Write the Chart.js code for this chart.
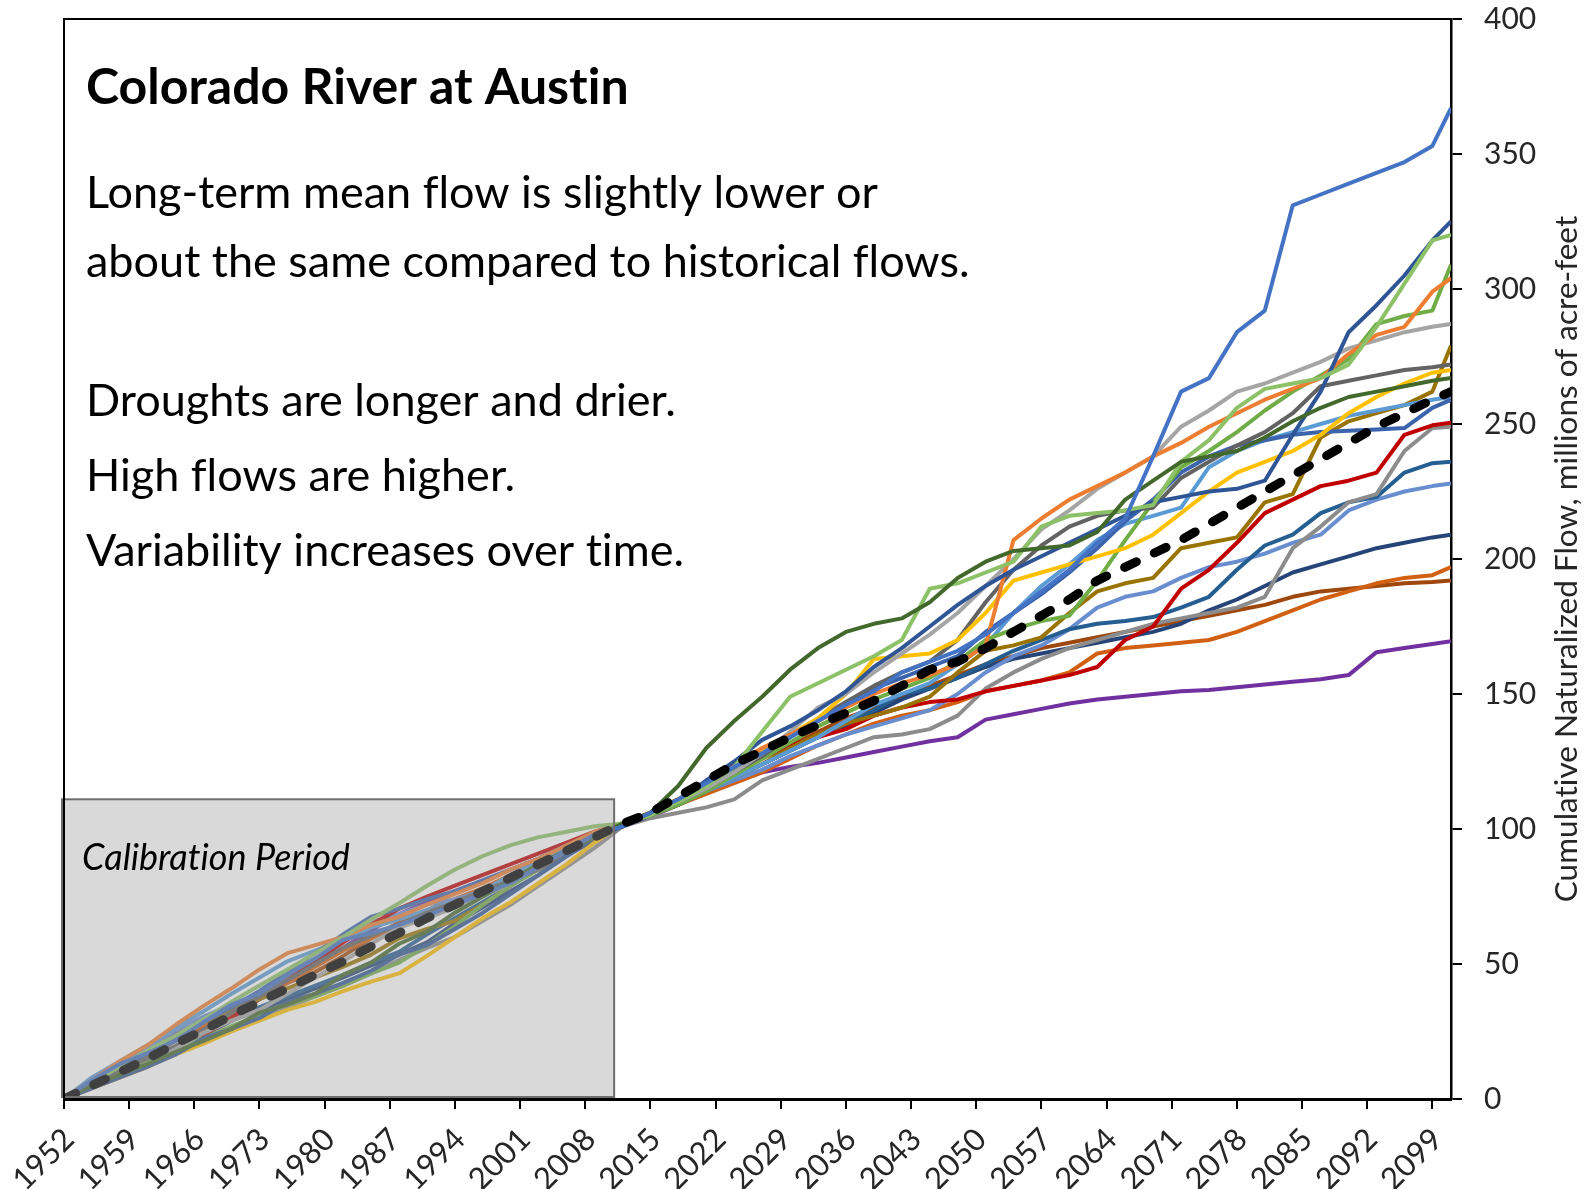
<!DOCTYPE html>
<html>
<head>
<meta charset="utf-8">
<title>Colorado River at Austin</title>
<script src="https://cdn.jsdelivr.net/npm/chart.js@4.4.1/dist/chart.umd.min.js"></script>
<style>
  html, body { margin: 0; padding: 0; background: #fff; }
</style>
</head>
<body>
<canvas id="grafico" width="1591" height="1189"></canvas>
<script>
// years of the sampled points (every 3 years, plus the last year)
const years = [1952, 1955, 1958, 1961, 1964, 1967, 1970, 1973, 1976, 1979,
  1982, 1985, 1988, 1991, 1994, 1997, 2000, 2003, 2006, 2009,
  2012, 2015, 2018, 2021, 2024, 2027, 2030, 2033, 2036, 2039,
  2042, 2045, 2048, 2051, 2054, 2057, 2060, 2063, 2066, 2069,
  2072, 2075, 2078, 2081, 2084, 2087, 2090, 2093, 2096, 2099, 2101];

const xTickYears = [1952, 1959, 1966, 1973, 1980, 1987, 1994, 2001, 2008, 2015, 2022,
  2029, 2036, 2043, 2050, 2057, 2064, 2071, 2078, 2085, 2092, 2099];

// calibration period box (years / millions of acre-feet)
const calibStart = 1952;
const calibEnd = 2011.1;
const calibTop = 111;

// cumulative naturalized flow, millions of acre-feet
const meanFlow = [0, 5, 10, 15, 20.5, 25.5, 31, 36, 41, 46, 51, 56.5, 61.5, 67, 72, 77, 82, 87, 92, 97,
  102, 106, 112, 118, 124, 129, 134, 138.5, 143, 147.5, 153, 159, 162, 167, 173, 179, 185, 192, 197, 202,
  207, 213, 219, 225, 231, 237, 243, 249, 254, 259, 262];

const run01 = [0, 7, 13, 17, 21.5, 28.5, 35, 39, 46, 52, 59, 61.5, 64.5, 68, 72, 76, 80, 86, 92, 98,
  101, 106, 111, 117, 123, 128, 134, 140, 146, 151, 158, 162, 166, 172, 180, 188, 196, 206, 215, 238,
  262, 267, 284, 292, 331, 335, 339, 343, 347, 353, 367];
const run02 = [0, 5, 9, 13, 17.5, 21.5, 26, 32, 35, 39, 46, 50.5, 57.5, 62, 69, 75, 81, 87, 92, 97,
  102, 106, 116, 130, 140, 149, 159, 167, 173, 176, 178, 184, 193, 199, 203, 204, 205, 210, 222, 229,
  236, 238, 240, 245, 251, 256, 260, 262, 264, 266, 267];
const run03 = [0, 6, 12, 18, 23.5, 29.5, 36, 42, 48, 54, 60, 66.5, 72.5, 79, 85, 90, 94, 97, 99, 101,
  102, 105, 110, 116, 123, 136, 149, 154, 159, 164, 170, 189, 191, 195, 199, 212, 216, 217, 218, 220,
  236, 244, 256, 263, 265, 267, 272, 286, 302, 318, 320];
const run04 = [0, 4, 8, 12, 16.5, 22.5, 26, 30, 36, 39, 43, 47.5, 53.5, 57, 63, 69, 76, 83, 90, 97,
  101, 105, 110, 118, 125, 133, 138, 144, 151, 160, 167, 175, 183, 190, 196, 201, 206, 211, 216, 221,
  223, 225, 226, 229, 246, 262, 284, 294, 305, 318, 325];
const run05 = [0, 7, 14, 20, 27.5, 34.5, 41, 48, 54, 57, 60, 64.5, 67.5, 72, 76, 80, 85, 89, 94, 99,
  102, 106, 111, 117, 124, 130, 135, 140, 145, 150, 154, 157, 161, 168, 207, 215, 222, 227, 232, 238,
  243, 249, 254, 259, 263, 267, 276, 283, 286, 299, 304];
const run06 = [0, 4, 9, 13, 18.5, 24.5, 29, 33, 39, 45, 51, 57.5, 63.5, 67, 71, 75, 80, 86, 92, 97,
  102, 106, 110, 115, 121, 128, 136, 145, 150, 158, 165, 172, 180, 190, 200, 211, 218, 226, 232, 238,
  249, 255, 262, 265, 269, 273, 278, 281, 284, 286, 287];
const run07 = [0, 4, 8, 12, 16.5, 20.5, 25, 29, 33, 36, 40, 43.5, 46.5, 53, 60, 67, 73, 80, 87, 95,
  102, 106, 111, 117, 123, 129, 135, 141, 150, 163, 164, 165, 170, 180, 192, 195, 198, 201, 204, 209,
  217, 225, 232, 236, 240, 246, 254, 260, 265, 269, 270];
const run08 = [0, 5, 11, 15, 19.5, 25.5, 32, 38, 44, 50, 56, 60.5, 64.5, 69, 73, 77, 81, 85, 91, 97,
  102, 106, 110, 115, 121, 127, 134, 141, 147, 153, 158, 162, 170, 184, 196, 205, 212, 216, 218, 219,
  230, 236, 242, 247, 254, 264, 266, 268, 270, 271, 272];
const run09 = [0, 5, 9, 14, 18.5, 22.5, 27, 31, 35, 38, 42, 46.5, 50.5, 57, 64, 72, 79, 85, 91, 97,
  102, 105, 109, 114, 120, 126, 132, 138, 143, 148, 152, 156, 162, 170, 174, 177, 179, 192, 207, 221,
  234, 240, 247, 255, 262, 268, 274, 287, 290, 292, 309];
const run10 = [0, 6, 11, 17, 22.5, 28.5, 34, 40, 47, 54, 61, 67.5, 70.5, 74, 77, 81, 85, 89, 94, 98,
  101, 105, 110, 116, 122, 128, 134, 140, 146, 152, 156, 160, 164, 173, 180, 187, 195, 204, 214, 222,
  232, 238, 242, 244, 246, 247, 247.5, 248, 248.5, 256, 259];
const run11 = [0, 8, 14, 20, 26.5, 32.5, 39, 45, 51, 55, 59, 63.5, 66.5, 70, 73, 77, 83, 88, 93, 98,
  102, 106, 110, 114, 119, 124, 129, 134, 140, 146, 150, 154, 161, 168, 180, 190, 198, 207, 213, 216,
  219, 234, 240, 244, 247, 250, 253, 255, 257, 259, 260];
const run12 = [0, 5, 10, 16, 22.5, 28.5, 33, 37, 41, 45, 49, 53.5, 59.5, 63, 66, 72, 79, 86, 92, 98,
  101, 105, 109, 114, 119, 124, 130, 135, 139, 142, 145, 149, 158, 166, 168, 171, 180, 188, 191, 193,
  204, 206, 208, 221, 224, 245, 251, 254, 257, 262, 279];
const run13 = [0, 4, 8, 12, 17.5, 23.5, 30, 37, 44, 51, 58, 64.5, 70.5, 75, 79, 83, 87, 91, 95, 99,
  102, 106, 111, 116, 123, 127, 131, 134, 137, 142, 145, 147, 148, 151, 153, 155, 157, 160, 170, 175,
  189, 196, 206, 217, 222, 227, 229, 232, 246, 249.5, 250.5];
const run14 = [0, 4, 9, 13, 17.5, 21.5, 26, 30, 34, 38, 42, 46.5, 51.5, 56, 60, 66, 72, 79, 86, 93,
  101, 104, 106, 108, 111, 118, 122, 126, 130, 134, 135, 137, 142, 152, 158, 163, 167, 170, 173, 176,
  178, 180, 182, 186, 204, 212, 221, 224, 240, 248.5, 249];
const run15 = [0, 5, 10, 15, 19.5, 24.5, 29, 34, 38, 42, 46, 50.5, 54.5, 61, 67, 73, 79, 86, 92, 97,
  101, 105, 109, 114, 119, 124, 129, 134, 139, 144, 150, 152, 156, 161, 166, 170, 174, 176, 177, 178.5,
  182, 186, 196, 205, 209, 217, 221, 223, 232, 235.5, 236];
const run16 = [0, 7, 13, 19, 25.5, 30.5, 35, 39, 45, 52, 59, 65.5, 68.5, 72, 74, 77, 81, 86, 92, 98,
  101, 105, 109, 114, 118, 122, 127, 131, 135, 138, 141, 144, 150, 158, 164, 168, 174, 182, 186, 188,
  193, 197, 199, 202, 206, 209, 218, 222, 225, 227, 228];
const run17 = [0, 4, 9, 14, 18.5, 23.5, 29, 33, 37, 41, 45, 49.5, 53.5, 58, 65, 71, 77, 83, 90, 96,
  101, 105, 109, 114, 119, 124, 129, 134, 138, 143, 148, 152, 156, 160, 163, 165, 167, 169, 171, 173,
  176, 181, 185, 190, 195, 198, 201, 204, 206, 208, 209];
const run18 = [0, 5, 11, 16, 22.5, 27.5, 32, 37, 43, 49, 55, 59.5, 64.5, 69, 74, 78, 83, 88, 93, 98,
  102, 105, 109, 113, 117, 121, 126, 131, 135, 139, 142, 144, 147, 151, 153, 155, 158, 165, 167, 168,
  169, 170, 173, 177, 181, 185, 188, 191, 193, 194, 197];
const run19 = [0, 5, 10, 16, 21.5, 26.5, 31, 37, 43, 47, 53, 59.5, 65.5, 70, 74, 78, 82, 87, 91, 97,
  102, 106, 111, 116, 121, 126, 131, 136, 141, 145, 149, 153, 157, 161, 164, 167, 169, 171, 173, 175,
  177, 179, 181, 183, 186, 188, 189, 190, 191, 191.5, 192];
const run20 = [0, 6, 12, 18, 24.5, 28.5, 33, 38, 44, 50, 56, 62.5, 68.5, 73, 77, 81, 85, 89, 94, 98,
  101, 104.5, 109, 114, 118, 121, 123, 124.5, 126.5, 128.5, 130.5, 132.5, 134, 140.5, 142.5, 144.5, 146.5, 148, 149, 150,
  151, 151.5, 152.5, 153.5, 154.5, 155.5, 157, 165.5, 167, 168.5, 169.5];

const runs = [run01, run02, run03, run04, run05, run06, run07, run08, run09, run10,
  run11, run12, run13, run14, run15, run16, run17, run18, run19, run20];
const runColors = ['#4472C4', '#43682B', '#8CC168', '#2F5597', '#ED7D31', '#A5A5A5', '#FFC000', '#636363', '#70AD47', '#3B64AD',
  '#5B9BD5', '#997300', '#C00000', '#8C8C8C', '#255E91', '#698ED0', '#264478', '#D26012', '#9E480E', '#7030A0'];

const toPoints = vals => vals.map((v, i) => ({x: years[i], y: v}));

const datasets = [{
  label: 'Mean',
  data: toPoints(meanFlow),
  borderColor: '#000',
  borderWidth: 9,
  borderDash: [13, 20],
  borderCapStyle: 'round',
  pointRadius: 0
}];
runs.forEach((r, i) => {
  datasets.push({
    label: 'Run ' + (i + 1),
    data: toPoints(r),
    borderColor: runColors[i],
    borderWidth: 4,
    pointRadius: 0
  });
});

const textFont = 'Lato';

// calibration box, frame and notes
const extras = {
  id: 'extras',
  afterDatasetsDraw(chart) {
    const {ctx, chartArea: a, scales: {x, y}} = chart;
    ctx.save();
    const x0 = x.getPixelForValue(calibStart) - 2;
    const x1 = x.getPixelForValue(calibEnd);
    const y0 = y.getPixelForValue(calibTop);
    const y1 = y.getPixelForValue(0) - 2;
    ctx.fillStyle = 'rgba(160,160,160,0.4)';
    ctx.fillRect(x0, y0, x1 - x0, y1 - y0);
    ctx.strokeStyle = '#6e6e6e';
    ctx.lineWidth = 2;
    ctx.strokeRect(x0, y0, x1 - x0, y1 - y0);

    // left and top frame lines
    ctx.strokeStyle = '#000';
    ctx.lineWidth = 2;
    ctx.beginPath();
    ctx.moveTo(a.left, a.bottom);
    ctx.lineTo(a.left, a.top);
    ctx.lineTo(a.right, a.top);
    ctx.stroke();

    ctx.textRendering = 'optimizeSpeed';
    ctx.fillStyle = '#000';
    ctx.textAlign = 'left';
    ctx.textBaseline = 'alphabetic';
    ctx.font = 'italic 36px ' + textFont;
    ctx.fillText('Calibration Period', a.left + 18, 870);

    ctx.font = 'bold 50px ' + textFont;
    ctx.fillText('Colorado River at Austin', a.left + 22, 104);
    ctx.font = '45px ' + textFont;
    ctx.fillText('Long-term mean flow is slightly lower or', a.left + 22, 208);
    ctx.fillText('about the same compared to historical flows.', a.left + 22, 277);
    ctx.fillText('Droughts are longer and drier.', a.left + 22, 416);
    ctx.fillText('High flows are higher.', a.left + 22, 491);
    ctx.fillText('Variability increases over time.', a.left + 22, 566);

    // y axis title, reading upward
    ctx.save();
    ctx.translate(1567, (a.top + a.bottom) / 2);
    ctx.rotate(-Math.PI / 2);
    ctx.textAlign = 'center';
    ctx.textBaseline = 'middle';
    ctx.font = '31.5px ' + textFont;
    ctx.fillStyle = '#262626';
    ctx.fillText('Cumulative Naturalized Flow, millions of acre-feet', 0, 0);
    ctx.restore();
    ctx.restore();
  }
};

Chart.defaults.font.family = textFont;
Chart.defaults.color = '#262626';

new Chart(document.getElementById('grafico'), {
  type: 'line',
  data: { datasets: datasets },
  plugins: [extras],
  options: {
    responsive: false,
    animation: false,
    events: [],
    layout: { padding: { left: 64, top: 19, right: 0, bottom: 0 } },
    elements: { line: { tension: 0, borderJoinStyle: 'round' }, point: { radius: 0 } },
    plugins: { legend: { display: false }, tooltip: { enabled: false } },
    scales: {
      x: {
        type: 'linear',
        min: 1952,
        max: 2101,
        afterBuildTicks: scale => { scale.ticks = xTickYears.map(v => ({value: v})); },
        afterFit: scale => { scale.height = 90; scale.paddingLeft = 0; scale.paddingRight = 0; },
        ticks: {
          autoSkip: false,
          maxRotation: 45,
          minRotation: 45,
          padding: 12,
          labelOffset: 5,
          font: { size: 31 },
          callback: v => String(v)
        },
        grid: { drawOnChartArea: false, drawTicks: true, tickLength: 10, color: '#000', lineWidth: 2 },
        border: { display: true, color: '#000', width: 3 }
      },
      y: {
        position: 'right',
        min: 0,
        max: 400,
        afterFit: scale => { scale.width = 140; scale.paddingTop = 0; scale.paddingBottom = 0; },
        ticks: { stepSize: 50, padding: 22, font: { size: 30 } },
        grid: { drawOnChartArea: false, drawTicks: true, tickLength: 11, color: '#000', lineWidth: 2 },
        border: { display: true, color: '#000', width: 2.5 }
      }
    }
  }
});
</script>
</body>
</html>
